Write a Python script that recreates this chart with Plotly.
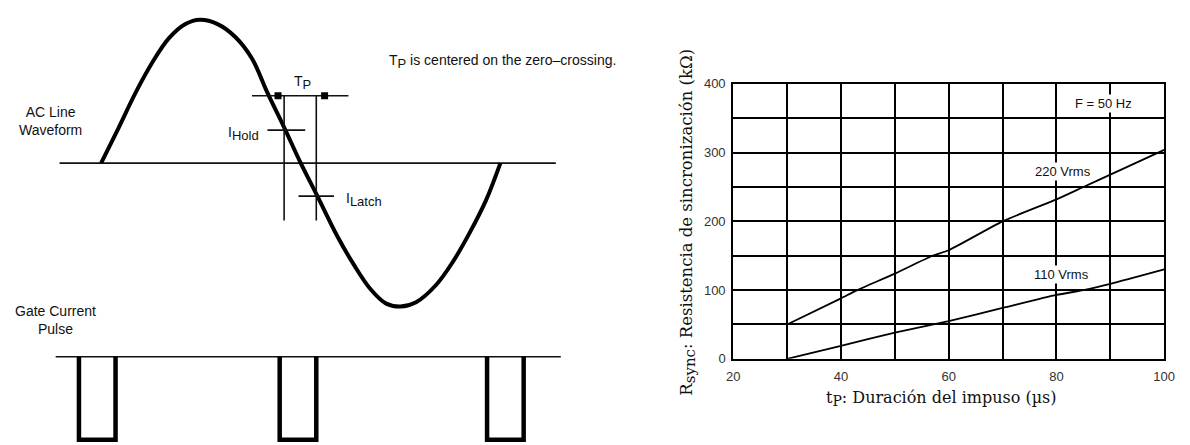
import plotly.graph_objects as go

W, H = 1190, 445          # reference picture size (positions below are read in these pixels)
FIG_W, FIG_H = 1197, 452  # canvas size that fills the photographed area

wave_phase = [0, 16, 31, 46, 61, 76, 89, 105, 121, 136, 150, 165, 180, 195, 213, 228,
              243, 257, 270, 284, 302, 317, 332, 347, 360]
wave_amp = [0, 0.25, 0.49, 0.70, 0.87, 0.97, 1.0, 0.97, 0.88, 0.73, 0.49, 0.25, 0.0,
            -0.23, -0.51, -0.71, -0.88, -0.98, -1.0, -0.97, -0.85, -0.69, -0.49, -0.26, 0]

pulse_start = [-20, 161, 348]
pulse_width = 33
pulse_base = -1.35
pulse_low = -1.93

tp_window = [165, 194]
tp_level = 0.47
tp_bottom = -0.40
i_hold_level = 0.23
i_latch_level = -0.23

tp_220 = [30, 40, 43, 50, 57, 60, 70, 80, 85, 90, 100]
r_220 = [50, 88, 100, 124, 150, 158, 200, 232, 250, 268, 304]
tp_110 = [30, 40, 50, 60, 70, 80, 85, 90, 100]
r_110 = [0, 19, 38, 55, 74, 93, 100, 109, 130]
x_ticks = [20, 40, 60, 80, 100]
y_ticks = [0, 100, 200, 300, 400]

SANS = "Liberation Sans, Arial, sans-serif"
SERIF = "DejaVu Serif, serif"
INK = "#111111"

fig = go.Figure()

fig.add_trace(go.Scatter(x=[-37.5, 410], y=[0, 0], mode="lines",
                         line=dict(color=INK, width=1.6), xaxis="x", yaxis="y"))
fig.add_trace(go.Scatter(x=wave_phase, y=wave_amp, mode="lines",
                         line=dict(color="black", width=4, shape="spline", smoothing=1.0),
                         xaxis="x", yaxis="y"))
fig.add_trace(go.Scatter(x=[136, 223], y=[tp_level, tp_level], mode="lines",
                         line=dict(color=INK, width=1.6), xaxis="x", yaxis="y"))
for xv in tp_window:
    fig.add_trace(go.Scatter(x=[xv, xv], y=[tp_level, tp_bottom], mode="lines",
                             line=dict(color=INK, width=1.6), xaxis="x", yaxis="y"))
fig.add_trace(go.Scatter(x=[tp_window[0] - 5.5, tp_window[1] + 7.5], y=[tp_level, tp_level],
                         mode="markers", marker=dict(symbol="square", size=7, color="black"),
                         xaxis="x", yaxis="y"))
fig.add_trace(go.Scatter(x=[150, 184], y=[i_hold_level, i_hold_level], mode="lines",
                         line=dict(color=INK, width=1.6), xaxis="x", yaxis="y"))
fig.add_trace(go.Scatter(x=[178, 210], y=[i_latch_level, i_latch_level], mode="lines",
                         line=dict(color=INK, width=1.6), xaxis="x", yaxis="y"))
fig.add_trace(go.Scatter(x=[-41, 414.5], y=[pulse_base, pulse_base], mode="lines",
                         line=dict(color=INK, width=1.6), xaxis="x", yaxis="y"))
for ps in pulse_start:
    fig.add_trace(go.Scatter(x=[ps, ps, ps + pulse_width, ps + pulse_width],
                             y=[pulse_base, pulse_low, pulse_low, pulse_base], mode="lines",
                             line=dict(color="black", width=4.5), xaxis="x", yaxis="y"))

fig.add_trace(go.Scatter(x=tp_220, y=r_220, mode="lines",
                         line=dict(color="black", width=1.8, shape="spline", smoothing=0.6),
                         xaxis="x2", yaxis="y2"))
fig.add_trace(go.Scatter(x=tp_110, y=r_110, mode="lines",
                         line=dict(color="black", width=1.8, shape="spline", smoothing=0.6),
                         xaxis="x2", yaxis="y2"))


def px(x):
    return x / W


def py(y):
    return 1 - y / H


ann = []


def sub(s, size):
    return "<sub><span style='font-size:%dpx'>%s</span></sub>" % (size, s)


def text(x, y, s, size=14, xanchor="center", font=SANS, angle=0, color=INK, **kw):
    ann.append(dict(x=px(x), y=py(y), xref="paper", yref="paper", text=s, showarrow=False,
                    xanchor=xanchor, yanchor="middle", textangle=angle,
                    font=dict(family=font, size=size, color=color), **kw))


text(44, 116, "AC Line<br>Waveform", size=14)
text(49, 319, "Gate Current<br>Pulse", size=14)
text(298, 77, "T" + sub("P", 13), size=14)
text(384, 55, "T" + sub("P", 13) + " is centered on the zero\u2013crossing.", size=14, xanchor="left")
text(256, 129, "I" + sub("Hold", 13), size=14, xanchor="right")
text(340, 196, "I" + sub("Latch", 13), size=14, xanchor="left")

ann.append(dict(x=88.8, y=372, xref="x2", yref="y2", text="F = 50 Hz", showarrow=False,
                bgcolor="white", font=dict(family=SANS, size=13, color=INK)))
ann.append(dict(x=81.2, y=272, xref="x2", yref="y2", text="220 Vrms", showarrow=False,
                bgcolor="white", font=dict(family=SANS, size=13, color=INK)))
ann.append(dict(x=81.0, y=123, xref="x2", yref="y2", text="110 Vrms", showarrow=False,
                bgcolor="white", font=dict(family=SANS, size=13, color=INK)))
text(943, 399, "t" + sub("P", 14) + ": Duración del impuso (µs)", size=16, font=SERIF)
text(687, 219, "R" + sub("sync", 15) + ": Resistencia de sincronización (kΩ)", size=16.5, font=SERIF, angle=-90)

fig.update_layout(
    width=FIG_W, height=FIG_H, autosize=False,
    margin=dict(l=0, r=0, t=0, b=0),
    paper_bgcolor="white", plot_bgcolor="rgba(0,0,0,0)",
    showlegend=False,
    annotations=ann,
    xaxis=dict(domain=[0, 0.5], range=[(0 - 95) / 1.1194, (595 - 95) / 1.1194],
               visible=False, fixedrange=True),
    yaxis=dict(domain=[0, 1], range=[-(445 - 159) / 146, 159 / 146],
               visible=False, fixedrange=True),
    xaxis2=dict(domain=[733 / W, 1168 / W], range=[20, 100], anchor="y2",
                tickvals=x_ticks, ticks="", showgrid=True, gridcolor="black", gridwidth=2,
                minor=dict(dtick=10, showgrid=True, gridcolor="black", gridwidth=2),
                showline=True, linecolor="black", linewidth=2, mirror=True, zeroline=False,
                fixedrange=True, ticklabelstandoff=5,
                tickfont=dict(family=SANS, size=13, color="#333333")),
    yaxis2=dict(domain=[(H - 358.3) / H, (H - 78.3) / H], range=[0, 400], anchor="x2",
                tickvals=y_ticks, ticks="", showgrid=True, gridcolor="black", gridwidth=2,
                minor=dict(dtick=50, showgrid=True, gridcolor="black", gridwidth=2),
                showline=True, linecolor="black", linewidth=2, mirror=True, zeroline=False,
                fixedrange=True, ticklabelstandoff=3,
                tickfont=dict(family=SANS, size=13, color="#333333")),
)

fig.write_html("out.html", config={"displayModeBar": False},
               post_script="document.body.style.margin='0';document.body.style.overflow='hidden';")
